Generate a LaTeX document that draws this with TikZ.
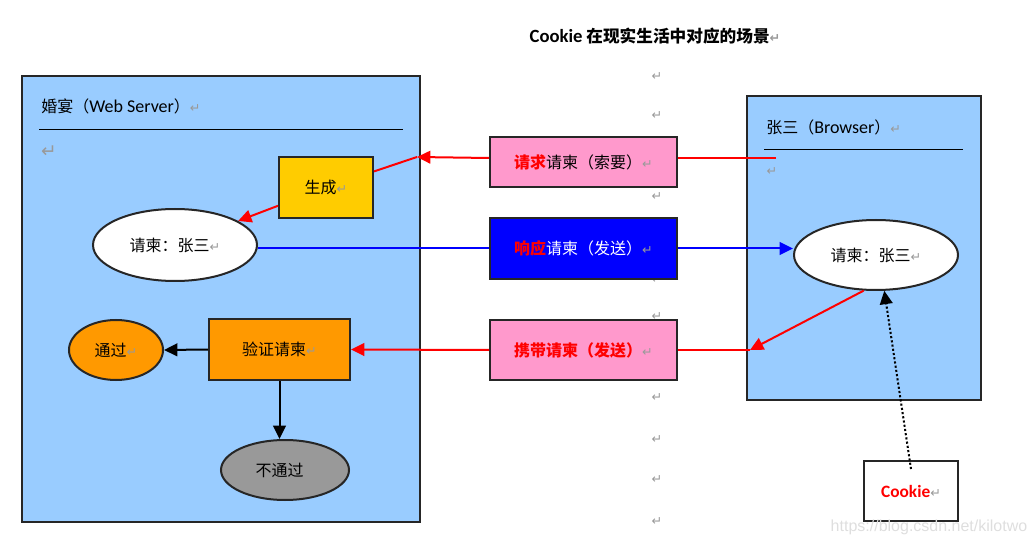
\documentclass[tikz,border=0pt]{standalone}
\usepackage{fontspec}
\setmainfont{Noto Sans CJK SC}
\newfontfamily\lat{Carlito}
\newfontfamily\dv{DejaVu Sans}
\newfontfamily\wm{Liberation Sans}
\usetikzlibrary{arrows.meta,shapes.geometric}
\definecolor{lblue}{HTML}{99CCFF}
\definecolor{gold}{HTML}{FFCC00}
\definecolor{orng}{HTML}{FF9900}
\definecolor{gry}{HTML}{999999}
\definecolor{pnk}{HTML}{FF99CC}
\definecolor{blu}{HTML}{0000FF}
\definecolor{rd}{HTML}{FF0000}
\definecolor{retgray}{HTML}{999999}
\newcommand{\retmark}{{\dv\fontsize{9.5}{9.5}\selectfont\color{retgray}↵}}
\begin{document}
\begin{tikzpicture}[x=0.75pt,y=-0.75pt,
  font=\fontsize{12}{14}\selectfont,
  sz/.style 2 args={minimum width=#1*0.75pt,minimum height=#2*0.75pt},
  shp/.style={draw=black!85,line width=1.5pt,inner sep=0pt},
  rbox/.style={shp,rectangle},
  ell/.style={shp,ellipse},
  tip/.style={-{Triangle[length=10pt,width=9.5pt]}},
  redline/.style={draw=rd,line width=1.5pt},
  blueline/.style={draw=blu,line width=1.5pt},
  blackline/.style={draw=black,line width=1.5pt},
  retnode/.style={inner sep=0pt}]
\useasboundingbox (0,0) rectangle (1035,545);
% column of paragraph marks
\foreach \yy [count=\i] in {77,116,197,280,317,398,440,480,522}
  \node[retnode] (col\i) at (657,\yy) {\retmark};
% title
\node (title) at (655,36) {\fontsize{12.5}{14}\selectfont\bfseries{\lat\fontsize{14}{14}\selectfont Cookie} 在现实生活中对应的场景\retmark};
% server
\node[rbox,fill=lblue,sz={398}{446}] (server) at (221,299) {};
\node[anchor=west,inner sep=0pt] (servert) at (41,106) {婚宴（{\lat\fontsize{13.5}{14}\selectfont Web Server}）\retmark};
\coordinate (sl1) at (39,129);
\coordinate (sl2) at (403,129);
\draw[line width=0.6pt] (sl1) -- (sl2);
\node[retnode] (sret) at (49,152) {{\dv\fontsize{14}{14}\selectfont\color{retgray}↵}};
% browser
\node[rbox,fill=lblue,sz={234}{304}] (browser) at (864,248) {};
\node[anchor=west,inner sep=0pt] (browsert) at (766,127) {张三（{\lat\fontsize{13.5}{14}\selectfont Browser}）\retmark};
\coordinate (bl1) at (764,149);
\coordinate (bl2) at (963,149);
\draw[line width=0.6pt] (bl1) -- (bl2);
\node[retnode] (bret) at (772,172) {\retmark};
% server nodes
\node[rbox,fill=gold,sz={94}{61}] (gen) at (326,187.5) {生成\retmark};
\node[ell,fill=white,sz={164}{72}] (ellA) at (175,245) {请柬：张三\retmark};
\node[ell,fill=orng,sz={94}{60}] (pass) at (116,350) {通过\retmark};
\node[rbox,fill=orng,sz={141}{61}] (verify) at (279.5,349.5) {验证请柬\retmark\hspace{14pt}};
\node[ell,fill=gry,sz={128}{60}] (fail) at (285,470) {不通过\retmark};
% middle boxes
\node[rbox,fill=pnk,sz={187}{50}] (req) at (583.5,162) {{\bfseries\color{rd}请求}请柬（索要）\retmark};
\node[rbox,fill=blu,sz={187}{61}] (resp) at (583.5,248.5) {{\bfseries\color{rd}响应}{\color{white}请柬（发送）}\retmark};
\node[rbox,fill=pnk,sz={187}{60}] (carry) at (583.5,350) {{\bfseries\color{rd}携带请柬（发送）}\retmark};
% browser nodes
\node[ell,fill=white,sz={164}{70}] (ellB) at (876,255) {请柬：张三\retmark};
\node[rbox,fill=white,sz={94}{60}] (cookie) at (911,491) {{\lat\bfseries\fontsize{13}{14}\selectfont\color{rd}Cookie}\retmark};
% watermark
\node[text=black!13,font=\wm\fontsize{12}{13}\selectfont] (wmark) at (929,527) {https://blog.csdn.net/kilotwo};
% connectors
\coordinate (reqstart) at (776,158);
\coordinate (reqtip) at (417,157);
\coordinate (carrytip) at (750,350);
\coordinate (ckstart) at (911,469);
\draw[redline] (reqstart) -- (req.east|-reqstart);
\draw[redline,tip] (req.west|-reqstart) -- (reqtip);
\draw[redline] (reqtip) -- (gen);
\draw[redline,tip] (gen) -- (ellA);
\draw[blueline] (ellA.east|-resp.west) -- (resp.west);
\draw[blueline,tip] (resp.east) -- (ellB.west|-resp.east);
\draw[redline,tip] (ellB.251) -- (carrytip);
\draw[redline] (carrytip) -- (carry.east);
\draw[redline,tip] (carry.west) -- (verify.east);
\draw[blackline,tip] (verify.west) -- (pass.east);
\draw[blackline,tip] (verify.south) -- (verify.south|-fail.north);
\draw[blackline,tip,dash pattern=on 1.6pt off 1.6pt] (ckstart) -- (ellB.283);
\end{tikzpicture}
\end{document}
